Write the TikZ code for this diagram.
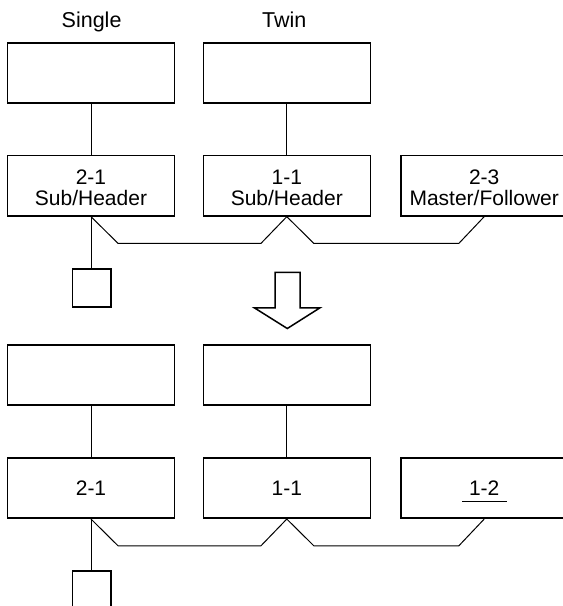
\documentclass[tikz,border=0pt]{standalone}
\usepackage{fontspec}
\setmainfont{Liberation Sans}
\usetikzlibrary{calc}
\begin{document}
\begin{tikzpicture}[x=1pt,y=-1pt,
  box/.style={draw,line width=1.6pt,minimum width=167pt,minimum height=60.5pt,inner sep=0pt,align=center,font=\fontsize{21}{21.5}\selectfont},
  sqbox/.style={draw,line width=1.6pt,minimum width=38.5pt,minimum height=37.7pt,inner sep=0pt},
  conn/.style={line width=1pt,line join=miter},
  hollow/.style={line width=1.5pt,line join=miter},
  lbl/.style={font=\fontsize{21.5}{22}\selectfont,anchor=base,inner sep=0pt}]
\path[use as bounding box] (0,0) rectangle (563,606);
\clip (0,0) rectangle (563,606);

% headings
\node[lbl] (single) at (91.6,27.5) {Single};
\node[lbl] (twin) at (284.2,27.7) {Twin};

% upper configuration
\node[box] (a1) at (91,73) {};
\node[box] (b1) at (286.8,73) {};
\node[box] (a2) at (91,185.6) {\rule{0pt}{19pt}2-1\\Sub/Header};
\node[box] (b2) at (286.8,185.6) {\rule{0pt}{19pt}1-1\\Sub/Header};
\node[box] (c2) at (484.2,185.6) {\rule{0pt}{19pt}2-3\\Master/Follower};
\node[sqbox] (s1) at (91.6,287.9) {};

\draw[conn] (a1) -- (a2);
\draw[conn] (b1) -- (b2);
\draw[conn] (a2.south) -- (a2.south |- s1.north);
\draw[conn] (a2.south) -- ++(27,26.7) -- ($(b2.south)+(-25.8,26.7)$) -- (b2.south)
  -- ++(27,26.7) -- ($(c2.south)+(-25.3,26.7)$) -- (c2.south);

% big hollow arrow
\draw[hollow] (275,272.3) -- (275,307.8) -- (254.3,307.8) -- (287.3,328.5)
  -- (320,307.8) -- (300,307.8) -- (300,272.3) -- cycle;

% lower configuration
\node[box] (a3) at (91,375) {};
\node[box] (b3) at (286.8,375) {};
\node[box] (a4) at (91,488) {2-1};
\node[box] (b4) at (286.8,488) {1-1};
\node[box] (c4) at (484.2,488) {1-2};
\node[sqbox] (s2) at (91.6,589.9) {};

\draw[conn] ($(c4.center)+(-22,13)$) -- ($(c4.center)+(23,13)$);

\draw[conn] (a3) -- (a4);
\draw[conn] (b3) -- (b4);
\draw[conn] (a4.south) -- (a4.south |- s2.north);
\draw[conn] (a4.south) -- ++(27,26.7) -- ($(b4.south)+(-25.8,26.7)$) -- (b4.south)
  -- ++(27,26.7) -- ($(c4.south)+(-25.3,26.7)$) -- (c4.south);
\end{tikzpicture}
\end{document}
